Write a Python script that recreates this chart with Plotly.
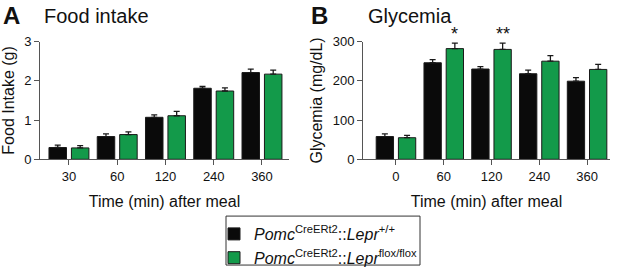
import plotly.graph_objects as go
from plotly.subplots import make_subplots

# ---- data ----
food_times = ["30", "60", "120", "240", "360"]
food_wt = [0.30, 0.58, 1.07, 1.81, 2.21]
food_wt_err = [0.06, 0.07, 0.06, 0.05, 0.09]
food_ko = [0.29, 0.63, 1.11, 1.74, 2.17]
food_ko_err = [0.06, 0.07, 0.11, 0.08, 0.10]

gly_times = ["0", "60", "120", "240", "360"]
gly_wt = [58, 246, 230, 218, 199]
gly_wt_err = [7, 8, 6, 9, 9]
gly_ko = [55, 282, 280, 250, 229]
gly_ko_err = [6, 14, 16, 14, 13]
gly_sig = ["", "*", "**", "", ""]

BLACK = "#0a0a0a"
GREEN = "#139a4a"
EDGE = "#1a1a1a"
FONT = "Liberation Sans, Arial, sans-serif"

name_wt = "<i>Pomc</i><sup>CreERt2</sup>::<i>Lepr</i><sup>+/+</sup>"
name_ko = "<i>Pomc</i><sup>CreERt2</sup>::<i>Lepr</i><sup>flox/flox</sup>"

fig = make_subplots(rows=1, cols=2)

def err(arr):
    return dict(type="data", array=arr, arrayminus=[0] * len(arr), symmetric=False,
                color=EDGE, thickness=1.3, width=3)

fig.add_trace(go.Bar(x=food_times, y=food_wt, error_y=err(food_wt_err), name=name_wt,
                     marker=dict(color=BLACK, line=dict(color=EDGE, width=1)),
                     legendgroup="wt"), row=1, col=1)
fig.add_trace(go.Bar(x=food_times, y=food_ko, error_y=err(food_ko_err), name=name_ko,
                     marker=dict(color=GREEN, line=dict(color=EDGE, width=1)),
                     legendgroup="ko"), row=1, col=1)
fig.add_trace(go.Bar(x=gly_times, y=gly_wt, error_y=err(gly_wt_err), name=name_wt,
                     marker=dict(color=BLACK, line=dict(color=EDGE, width=1)),
                     legendgroup="wt", showlegend=False), row=1, col=2)
fig.add_trace(go.Bar(x=gly_times, y=gly_ko, error_y=err(gly_ko_err), name=name_ko,
                     marker=dict(color=GREEN, line=dict(color=EDGE, width=1)),
                     legendgroup="ko", showlegend=False), row=1, col=2)

for i, (v, e, s) in enumerate(zip(gly_ko, gly_ko_err, gly_sig)):
    if s:
        fig.add_annotation(x=i, y=v + e, xref="x2", yref="y2", text=s, showarrow=False,
                           xshift=11, yshift=-3, yanchor="bottom",
                           font=dict(size=18, color="#111", family=FONT))

axis_common = dict(showline=True, linecolor="#555", linewidth=1, ticks="outside",
                   ticklen=5, tickcolor="#555", tickwidth=1, showgrid=False, zeroline=False,
                   tickfont=dict(size=13, color="#111", family=FONT))

fig.update_xaxes(axis_common)
fig.update_yaxes(axis_common)

fig.update_layout(
    width=617, height=275,
    margin=dict(l=0, r=0, t=0, b=0),
    paper_bgcolor="white", plot_bgcolor="white",
    barmode="group", bargap=0.07, bargroupgap=0.22,
    font=dict(family=FONT, color="#111"),
    xaxis=dict(domain=[40 / 617, 289 / 617], type="category", range=[-0.6, 4.56],
               title=dict(text="Time (min) after meal", font=dict(size=16), standoff=12)),
    xaxis2=dict(domain=[363 / 617, 610 / 617], type="category", range=[-0.69, 4.48],
                title=dict(text="Time (min) after meal", font=dict(size=16), standoff=12)),
    yaxis=dict(domain=[1 - 161.7 / 275, 1 - 36.7 / 275], range=[0, 3], tickvals=[0, 1, 2, 3],
               title=dict(text="Food Intake (g)", font=dict(size=16), standoff=6)),
    yaxis2=dict(domain=[1 - 161.7 / 275, 1 - 36.7 / 275], range=[0, 300],
                tickvals=[0, 100, 200, 300],
                title=dict(text="Glycemia (mg/dL)", font=dict(size=16), standoff=6)),
    legend=dict(x=214 / 617, y=1 - 223 / 275, xanchor="left", yanchor="top",
                borderwidth=0, font=dict(size=16, color="#111"),
                tracegroupgap=0, itemwidth=30, bgcolor="rgba(0,0,0,0)"),
    showlegend=True,
)

# legend frame
fig.add_shape(type="rect", xref="paper", yref="paper",
              x0=226 / 617, x1=420 / 617, y0=1 - 274 / 275, y1=1 - 222 / 275,
              line=dict(color="#333", width=1), fillcolor="rgba(0,0,0,0)")

for txt, x in [("A", 1), ("B", 309)]:
    fig.add_annotation(x=x / 617, y=1 - 9 / 275, xref="paper", yref="paper", text="<b>%s</b>" % txt,
                       showarrow=False, xanchor="left", yanchor="middle",
                       font=dict(size=24, color="#111", family=FONT))
for txt, x in [("Food intake", 42), ("Glycemia", 366)]:
    fig.add_annotation(x=x / 617, y=1 - 10 / 275, xref="paper", yref="paper", text=txt,
                       showarrow=False, xanchor="left", yanchor="middle",
                       font=dict(size=20, color="#111", family=FONT))

fig.write_html("out.html", config={"displayModeBar": False},
               post_script="document.body.style.margin='0';")
